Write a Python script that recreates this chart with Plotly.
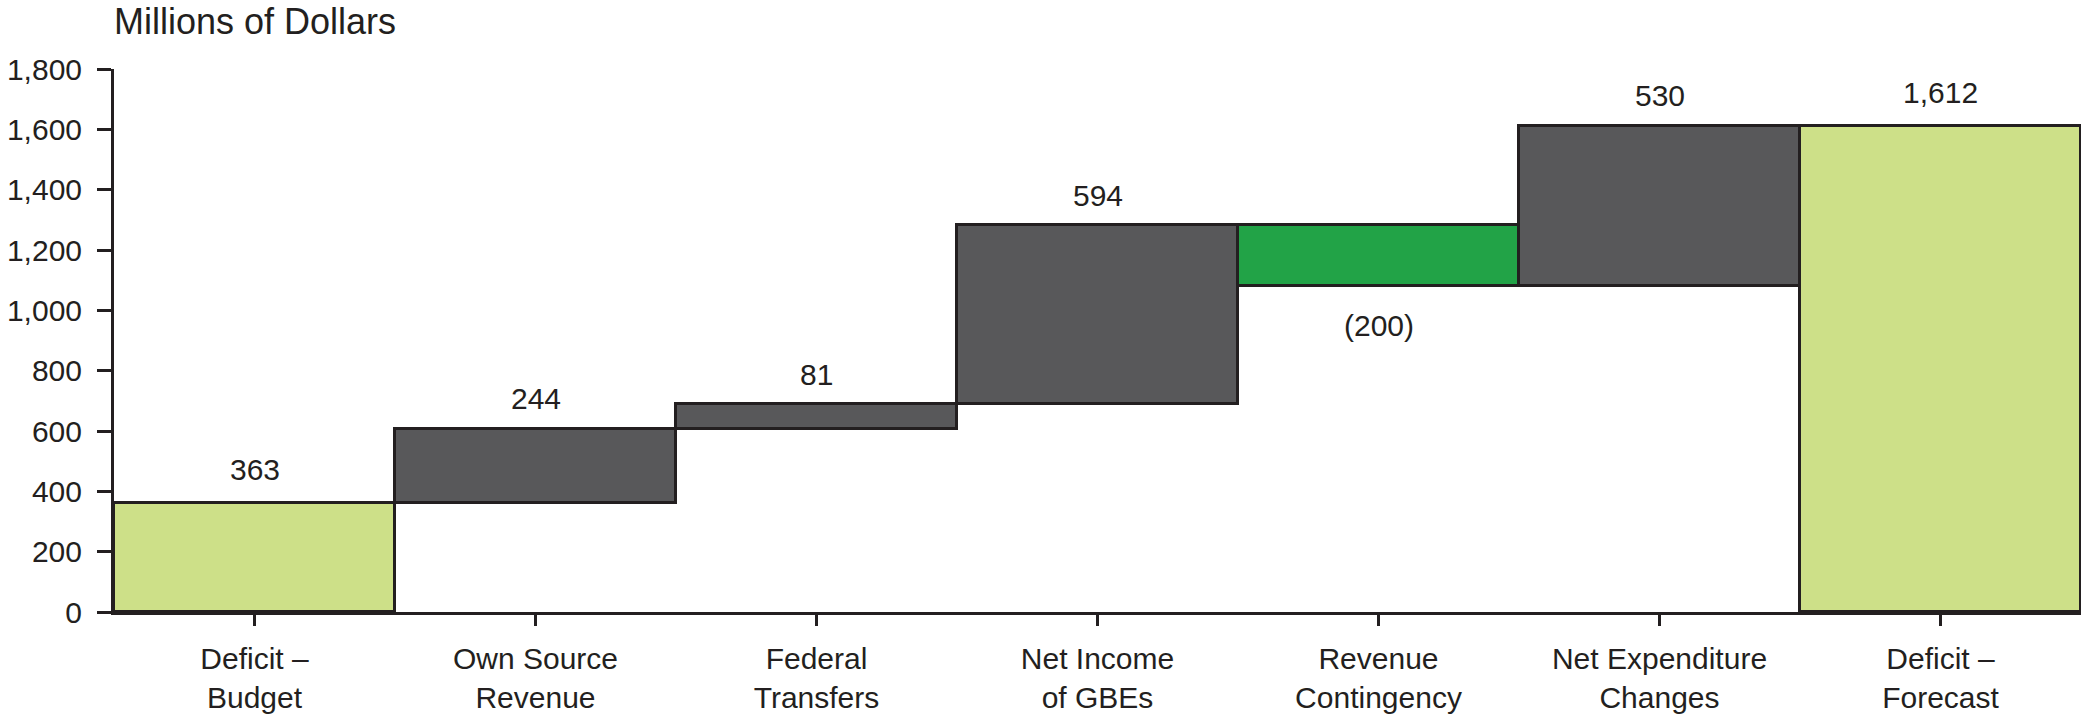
import plotly.graph_objects as go

# Deficit bridge: budget deficit, changes, forecast deficit (millions of dollars)
categories = [
    "Deficit –<br>Budget",
    "Own Source<br>Revenue",
    "Federal<br>Transfers",
    "Net Income<br>of GBEs",
    "Revenue<br>Contingency",
    "Net Expenditure<br>Changes",
    "Deficit –<br>Forecast",
]
values = [363, 244, 81, 594, -200, 530, 1612]
measures = ["absolute", "relative", "relative", "relative", "relative", "relative", "total"]
y_ticks = [0, 200, 400, 600, 800, 1000, 1200, 1400, 1600, 1800]

INK = "#231F20"
DARK = "#58585A"
GREEN = "#22A347"
LIGHT = "#CDE088"
FONT = "Liberation Sans, Arial, sans-serif"

xs = list(range(len(categories)))

fig = go.Figure(
    go.Waterfall(
        x=xs,
        y=values,
        measure=measures,
        increasing=dict(marker=dict(color=DARK, line=dict(color=INK, width=3))),
        decreasing=dict(marker=dict(color=GREEN, line=dict(color=INK, width=3))),
        totals=dict(marker=dict(color=LIGHT, line=dict(color=INK, width=3))),
        connector=dict(visible=False),
        hoverinfo="skip",
    )
)


def fmt(v):
    s = f"{abs(v):,}"
    return f"({s})" if v < 0 else s


# value labels above (or below, for reductions) each step
running = 0
for i, (v, m) in enumerate(zip(values, measures)):
    if m in ("absolute", "total"):
        start, end = 0, v
    else:
        start, end = running, running + v
    running = end
    if v >= 0:
        top = max(start, end)
        shift = 33 if m != "relative" else 30
        fig.add_annotation(x=i, y=top, text=fmt(v), showarrow=False,
                           yanchor="middle", yshift=shift,
                           font=dict(family=FONT, size=30, color=INK))
    else:
        bottom = min(start, end)
        fig.add_annotation(x=i, y=bottom, text=fmt(v), showarrow=False,
                           yanchor="middle", yshift=-40,
                           font=dict(family=FONT, size=30, color=INK))

fig.add_annotation(xref="paper", yref="paper", x=-0.001, y=1.0866, xanchor="left",
                   yanchor="middle", text="Millions of Dollars", showarrow=False,
                   font=dict(family=FONT, size=36, color=INK))

fig.update_layout(
    width=2082,
    height=717,
    margin=dict(l=114, r=1, t=69, b=105),
    paper_bgcolor="white",
    plot_bgcolor="white",
    waterfallgap=0,
    showlegend=False,
    xaxis=dict(
        range=[-0.5, 6.5],
        tickmode="array",
        tickvals=xs,
        ticktext=categories,
        showline=True,
        linecolor=INK,
        linewidth=3,
        ticks="outside",
        ticklen=11,
        tickwidth=3,
        tickcolor=INK,
        ticklabelstandoff=7,
        showgrid=False,
        zeroline=False,
        automargin=False,
        tickfont=dict(family=FONT, size=30, color=INK),
    ),
    yaxis=dict(
        range=[0, 1800],
        tickmode="array",
        tickvals=y_ticks,
        tickformat=",d",
        showline=True,
        linecolor=INK,
        linewidth=3,
        ticks="outside",
        ticklen=14,
        tickwidth=3,
        tickcolor=INK,
        ticklabelstandoff=9,
        showgrid=False,
        zeroline=False,
        automargin=False,
        tickfont=dict(family=FONT, size=30, color=INK),
    ),
)

fig.write_html("out.html")
